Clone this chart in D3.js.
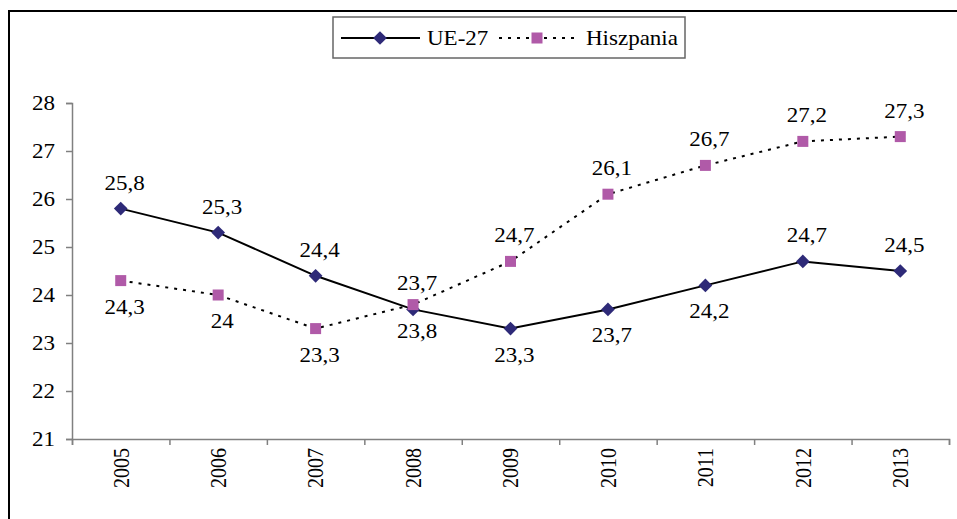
<!DOCTYPE html>
<html>
<head>
<meta charset="utf-8">
<script src="https://cdn.jsdelivr.net/npm/d3@7"></script>
<style>
  body { margin: 0; background: #fff; }
  svg { display: block; }
</style>
</head>
<body>
<svg width="957" height="519" font-family="Liberation Serif" font-size="20"></svg>
<script>
// chart data
const years = ["2005", "2006", "2007", "2008", "2009", "2010", "2011", "2012", "2013"];
const ueValues = [25.8, 25.3, 24.4, 23.7, 23.3, 23.7, 24.2, 24.7, 24.5];
const esValues = [24.3, 24.0, 23.3, 23.8, 24.7, 26.1, 26.7, 27.2, 27.3];
const yTicks = [21, 22, 23, 24, 25, 26, 27, 28];
const seriesNames = ["UE-27", "Hiszpania"];
// which labels sit above their point
const ueLabelAbove = [true, true, true, true, false, false, false, true, true];
const esLabelAbove = [false, false, false, false, true, true, true, true, true];

document.addEventListener("DOMContentLoaded", function() {
    let svg = d3.select("svg");
    let stretch = "scale(1.15,1)";   // text in the original is a bit wider than tall
    let fmt = v => String(v).replace(".", ",");

    let left = 72, right = 949, top = 103, bottom = 439;

    // outer frame
    svg.append("rect")
        .attr("x", 9).attr("y", 11)
        .attr("width", 970).attr("height", 530)
        .style("fill", "none")
        .style("stroke", "#000")
        .style("stroke-width", 2);

    let x = d3.scaleBand().domain(years).range([left, right]);
    let xEdges = d3.scaleLinear().domain([0, years.length]).range([left, right]);
    let y = d3.scaleLinear().domain([21, 28]).range([bottom, top]);

    // y axis
    let yAxis = svg.append("g")
        .attr("transform", `translate(${left},0)`)
        .call(d3.axisLeft(y).tickValues(yTicks).tickSize(6).tickFormat(d3.format("d")));
    yAxis.selectAll("text")
        .attr("x", 0)
        .attr("dy", "0.34em")
        .attr("transform", `translate(-17,0) ${stretch}`);

    // x axis: ticks on the category edges, labels in the middle
    svg.append("g")
        .attr("transform", `translate(0,${bottom})`)
        .call(d3.axisBottom(xEdges).ticks(years.length).tickSize(6).tickFormat(""));
    let xLab = svg.append("g")
        .attr("transform", `translate(0,${bottom})`)
        .call(d3.axisBottom(x).tickSize(0).tickFormat(d => d));
    xLab.select(".domain").remove();
    xLab.selectAll("text")
        .attr("x", 0).attr("y", 0)
        .attr("dy", "0.34em")
        .attr("text-anchor", "end")
        .attr("transform", `translate(0,9) ${stretch} rotate(-90)`);

    // the axis sets its own font on its group; give it back to the svg
    svg.selectAll("g").attr("font-family", null).attr("font-size", null);

    svg.selectAll(".domain, .tick line")
        .style("stroke", "#808080")
        .style("stroke-width", 1.5);

    let cx = (d, i) => x(years[i]) + x.bandwidth() / 2;
    let line = d3.line().x(cx).y(d => y(d));

    // Hiszpania dotted line
    svg.append("path")
        .datum(esValues)
        .attr("d", line)
        .style("fill", "none")
        .style("stroke", "#000")
        .style("stroke-width", 2)
        .style("stroke-dasharray", "3,6");

    // UE-27 solid line
    svg.append("path")
        .datum(ueValues)
        .attr("d", line)
        .style("fill", "none")
        .style("stroke", "#000")
        .style("stroke-width", 2);

    let diamond = d3.symbol().type(d3.symbolDiamond2).size(120);
    let square = 11;

    svg.selectAll("path.ue")
        .data(ueValues)
        .enter().append("path")
        .attr("class", "ue")
        .attr("d", diamond)
        .attr("transform", (d, i) => `translate(${cx(d, i)},${y(d)})`)
        .style("fill", "#2e2a78");

    svg.selectAll("rect.es")
        .data(esValues)
        .enter().append("rect")
        .attr("class", "es")
        .attr("x", (d, i) => cx(d, i) - square / 2)
        .attr("y", d => y(d) - square / 2)
        .attr("width", square).attr("height", square)
        .style("fill", "#b05aa8");

    // value labels
    function labels(values, above, cls) {
        svg.selectAll("text." + cls)
            .data(values)
            .enter().append("text")
            .attr("class", cls)
            .attr("text-anchor", "middle")
            .attr("transform", (d, i) =>
                `translate(${cx(d, i) + 4},${y(d) + (above[i] ? -19 : 33)}) ${stretch}`)
            .text(fmt);
    }
    labels(ueValues, ueLabelAbove, "ueLab");
    labels(esValues, esLabelAbove, "esLab");

    // legend
    let lg = svg.append("g");
    lg.append("rect")
        .attr("x", 333).attr("y", 17)
        .attr("width", 352).attr("height", 41)
        .style("fill", "#fff")
        .style("stroke", "#666")
        .style("stroke-width", 1.5);
    let ly = 38;
    lg.append("line")
        .attr("x1", 341).attr("x2", 420).attr("y1", ly).attr("y2", ly)
        .style("stroke", "#000").style("stroke-width", 2);
    lg.append("path")
        .attr("d", diamond)
        .attr("transform", `translate(380,${ly})`)
        .style("fill", "#2e2a78");
    lg.append("text")
        .attr("transform", `translate(427,${ly + 7}) ${stretch}`)
        .text(seriesNames[0]);
    lg.append("line")
        .attr("x1", 499).attr("x2", 576).attr("y1", ly).attr("y2", ly)
        .style("stroke", "#000").style("stroke-width", 2)
        .style("stroke-dasharray", "3,6");
    lg.append("rect")
        .attr("x", 537 - square / 2).attr("y", ly - square / 2)
        .attr("width", square).attr("height", square)
        .style("fill", "#b05aa8");
    lg.append("text")
        .attr("transform", `translate(586,${ly + 7}) ${stretch}`)
        .text(seriesNames[1]);

    svg.selectAll("text").attr("fill", "#000");
});
</script>
</body>
</html>
